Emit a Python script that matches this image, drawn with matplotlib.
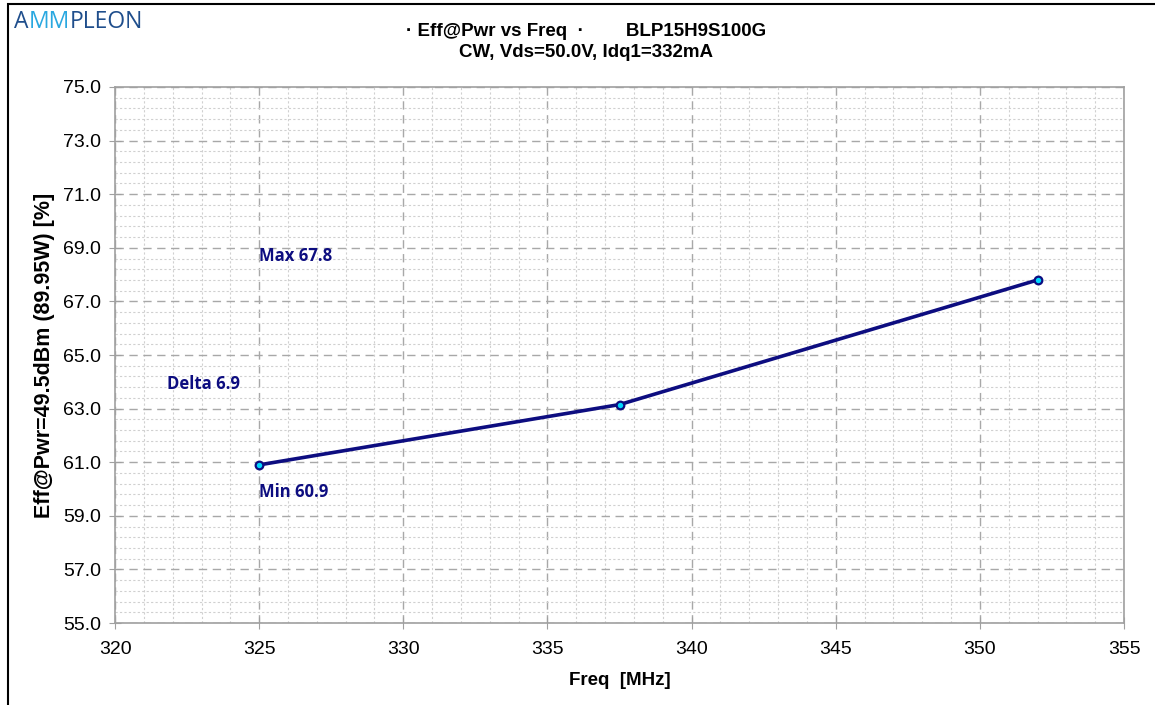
import matplotlib.pyplot as plt
from matplotlib.ticker import MultipleLocator, FormatStrFormatter
from matplotlib.patches import Rectangle

freq = [325, 337.5, 352]
eff = [60.9, 63.15, 67.8]

title1 = "\u00b7 Eff@Pwr vs Freq  \u00b7        BLP15H9S100G"
title2 = "CW, Vds=50.0V, Idq1=332mA"
navy = "#0d0d80"

plt.rcParams['font.family'] = ['Liberation Sans', 'DejaVu Sans']

fig = plt.figure(figsize=(11.55, 7.05), dpi=100)
ax = fig.add_axes([0.0996, 0.1163, 0.8736, 0.7603])

ax.plot(freq, eff, color=navy, lw=2.6, zorder=3)
ax.plot(freq, eff, 'o', ms=5.5, mfc='#00d8ff', mec=navy, mew=1.6, zorder=4)

ax.set_xlim(320, 355)
ax.set_ylim(55, 75)
ax.xaxis.set_major_locator(MultipleLocator(5))
ax.xaxis.set_minor_locator(MultipleLocator(1))
ax.yaxis.set_major_locator(MultipleLocator(2, offset=1))
ax.yaxis.set_minor_locator(MultipleLocator(0.4, offset=0.2))
ax.yaxis.set_major_formatter(FormatStrFormatter('%.1f'))

ax.grid(which='major', color='#a8a8a8', ls=(0, (6, 4)), lw=1.0)
ax.grid(which='minor', color='#d0d0d0', ls=(0, (2, 2)), lw=0.8)
ax.set_axisbelow(True)
for s in ax.spines.values():
    s.set_color('#a0a0a0')
    s.set_linewidth(1.2)
ax.tick_params(which='major', direction='inout', length=8, color='#a0a0a0',
               labelsize=14, pad=6)
ax.tick_params(which='minor', length=0)
ax.tick_params(axis='x', pad=9)

ax.set_xlabel("Freq  [MHz]", fontsize=13.5, fontweight='bold', labelpad=10)
ax.set_ylabel("Eff@Pwr=49.5dBm (89.95W) [%]", fontsize=15.5, fontweight='bold',
              labelpad=6)

afont = dict(color=navy, fontsize=12, fontweight='bold', family=['Open Sans', 'DejaVu Sans'])
ax.text(325, 68.7, "Max 67.8", va='center', ha='left', **afont)
ax.text(321.8, 63.9, "Delta 6.9", va='center', ha='left', **afont)
ax.text(325, 59.9, "Min 60.9", va='center', ha='left', **afont)

fig.text(0.507, 0.956, title1, ha='center', va='center', fontsize=13.5, fontweight='bold')
fig.text(0.507, 0.925, title2, ha='center', va='center', fontsize=13.5, fontweight='bold')

# logo: three pieces chained left to right
lfont = dict(fontsize=16.5, fontweight='medium', family=['Open Sans', 'DejaVu Sans'])
a1 = fig.text(0.012, 0.96, "A", color='#1f4e8c', va='baseline', ha='left', **lfont)
a2 = ax.annotate("MM", xy=(1, 0), xycoords=a1, va='bottom', ha='left',
                 color='#2aa8e0', annotation_clip=False, **lfont)
a3 = ax.annotate("PLEON", xy=(1, 0), xycoords=a2, va='bottom', ha='left',
                 color='#1f4e8c', annotation_clip=False, **lfont)

fig.patches.append(Rectangle((8 / 1155, -0.1), 1.2, 1 - 4 / 705 + 0.1,
                             transform=fig.transFigure, fill=False,
                             edgecolor='black', lw=1.5))

fig.savefig("out.png", dpi=100, facecolor='white')
